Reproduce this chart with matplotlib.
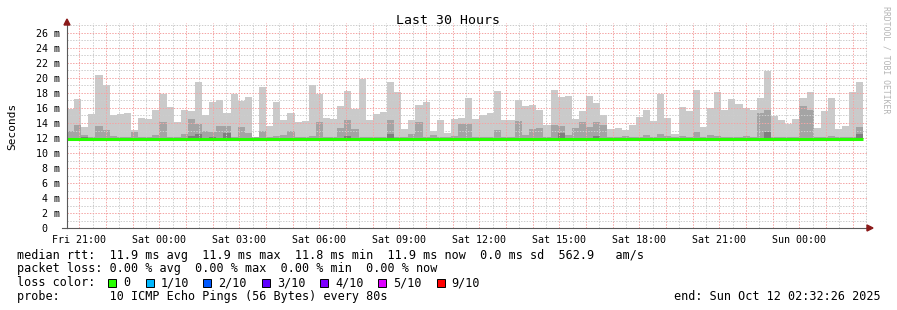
import matplotlib
matplotlib.use("Agg")
import matplotlib.pyplot as plt
import matplotlib.dates as mdates
from matplotlib.patches import Polygon, Rectangle
import numpy as np
from datetime import datetime, timedelta

# ---------------- data ----------------
title = "Last 30 Hours"
end_time = datetime(2025, 10, 12, 2, 32, 26)
step_minutes = 16
median_rtt = 11.85  # ms (loss 0 -> green)

# smoke: max ping (p10), 9th ping, 8th ping per 16-minute step (ms)
ping_max = [15.9, 17.2, 13.5, 15.2, 20.4, 19.0, 15.1, 15.2, 15.4, 13.1,
            14.7, 14.6, 15.7, 17.8, 16.2, 14.2, 15.8, 15.6, 19.5, 15.1,
            16.8, 17.1, 15.4, 17.8, 17.0, 17.5, 12.2, 18.8, 13.6, 16.8,
            14.4, 15.4, 14.2, 14.3, 19.0, 17.8, 14.7, 14.6, 16.3, 18.3,
            15.9, 19.9, 14.4, 15.2, 15.5, 19.5, 18.2, 13.2, 14.4, 16.4,
            16.8, 13.0, 14.4, 12.7, 14.6, 14.7, 17.4, 14.6, 15.1, 15.4,
            18.3, 14.4, 14.4, 17.1, 16.3, 16.4, 15.8, 13.8, 18.4, 17.5,
            17.6, 14.6, 15.6, 17.6, 16.6, 15.1, 13.2, 13.4, 13.1, 13.8,
            14.8, 15.8, 14.3, 17.9, 14.7, 12.6, 16.1, 15.6, 18.4, 13.5,
            16.0, 18.1, 15.7, 17.2, 16.5, 16.0, 15.7, 17.3, 20.9, 14.9,
            14.4, 13.9, 14.5, 17.3, 18.1, 13.3, 15.6, 17.3, 13.2, 13.6,
            18.1, 19.5]
ping_9th = [13.0, 13.8, 12.4, 12.2, 13.6, 13.1, 12.3, 12.1, 12.1, 12.8,
            12.1, 12.1, 12.4, 14.1, 12.2, 12.1, 12.6, 14.6, 13.9, 12.9,
            12.8, 13.6, 13.6, 12.2, 13.5, 12.7, 12.1, 12.9, 12.2, 12.3,
            12.4, 13.0, 12.1, 12.1, 12.3, 14.2, 12.1, 12.1, 13.4, 14.4,
            13.2, 12.2, 12.1, 12.1, 12.1, 14.4, 12.1, 12.1, 12.6, 14.2,
            12.1, 12.4, 12.1, 12.1, 12.3, 13.9, 13.9, 12.1, 12.1, 12.1,
            13.1, 12.1, 12.1, 14.3, 12.4, 13.2, 13.4, 12.1, 13.8, 13.6,
            12.4, 13.4, 14.2, 13.5, 14.1, 13.8, 12.1, 12.1, 12.3, 12.2,
            12.1, 12.4, 12.1, 12.6, 12.3, 12.1, 12.3, 12.1, 12.8, 12.1,
            12.4, 12.3, 12.1, 12.1, 12.2, 12.3, 12.2, 15.3, 15.7, 12.2,
            12.1, 12.1, 12.1, 16.3, 15.7, 12.1, 12.2, 12.3, 12.1, 12.1,
            12.1, 13.5]
ping_8th = [12.0, 12.0, 12.1, 12.0, 12.0, 12.0, 12.0, 12.0, 12.0, 12.0,
            12.0, 12.0, 12.0, 12.0, 12.0, 12.0, 12.0, 12.3, 12.5, 12.0,
            12.2, 12.0, 12.7, 12.0, 12.0, 12.0, 12.0, 12.0, 12.0, 12.0,
            12.0, 12.0, 12.0, 12.0, 12.0, 12.0, 12.0, 12.0, 12.0, 12.3,
            12.0, 12.0, 12.0, 12.0, 12.0, 12.6, 12.0, 12.0, 12.0, 12.0,
            12.0, 12.0, 12.0, 12.0, 12.0, 12.0, 12.0, 12.0, 12.0, 12.0,
            12.0, 12.0, 12.0, 12.0, 12.0, 12.0, 12.0, 12.0, 12.0, 12.7,
            12.0, 12.0, 12.0, 12.0, 12.3, 12.0, 12.0, 12.0, 12.0, 12.0,
            12.0, 12.0, 12.0, 12.0, 12.0, 12.0, 12.0, 12.0, 12.0, 12.0,
            12.0, 12.0, 12.0, 12.0, 12.0, 12.0, 12.0, 12.0, 12.8, 12.0,
            12.0, 12.0, 12.0, 12.0, 12.0, 12.0, 12.0, 12.0, 12.0, 12.0,
            12.0, 12.6]
ping_min, ping_2nd, ping_3rd = 11.70, 11.75, 11.80

y_ticks = [0, 2, 4, 6, 8, 10, 12, 14, 16, 18, 20, 22, 24, 26]
y_tick_labels = ["0  ", "2 m", "4 m", "6 m", "8 m", "10 m", "12 m", "14 m",
                 "16 m", "18 m", "20 m", "22 m", "24 m", "26 m"]

legend_line1 = "median rtt:  11.9 ms avg  11.9 ms max  11.8 ms min  11.9 ms now  0.0 ms sd  562.9   am/s"
legend_line2 = "packet loss: 0.00 % avg  0.00 % max  0.00 % min  0.00 % now"
loss_labels = ["0", "1/10", "2/10", "3/10", "4/10", "5/10", "9/10"]
loss_colors = ["#26ff00", "#00b8ff", "#0059ff", "#5e00ff", "#7e00ff", "#dd00ff", "#ff0000"]
probe_line = "probe:       10 ICMP Echo Pings (56 Bytes) every 80s"
end_line = "end: Sun Oct 12 02:32:26 2025"
watermark = "RRDTOOL / TOBI OETIKER"

# ---------------- figure ----------------
W, H = 897, 310
FONT = "DejaVu Sans Mono"
fig = plt.figure(figsize=(W / 100, H / 100), dpi=100)
fig.patch.set_facecolor("white")
L, R, T, B = 67, 867, 23, 228
ax = fig.add_axes([L / W, 1 - B / H, (R - L) / W, (B - T) / H])
ax.set_facecolor("white")

def fx(x):
    return x / W

def fy(y):
    return 1 - y / H

start_time = end_time - timedelta(hours=30)
n = len(ping_max)
edges = [start_time + timedelta(minutes=step_minutes * i) for i in range(n + 1)]
xe = mdates.date2num(edges)

def stepvals(v):
    v = list(v)
    return np.array(v + [v[-1]])

pmax = stepvals(ping_max)
p9 = stepvals(ping_9th)
p8 = stepvals(ping_8th)

ax.fill_between(xe, ping_min, pmax, step="post", color="#cacaca", lw=0, zorder=1)
ax.fill_between(xe, ping_2nd, p9, step="post", color="#a4a4a4", lw=0, zorder=1.1)
ax.fill_between(xe, ping_3rd, p8, step="post", color="#7e7e7e", lw=0, zorder=1.2)

x0 = mdates.date2num(start_time)
x1 = mdates.date2num(end_time)
ax.set_xlim(x0, x1)
ymax = (B - T) / 7.5
ax.set_ylim(0, ymax)

# grid
dash = (0, (1.4, 1.4))
gray = "#cdcdcd"
red = "#f4a4a4"
t = datetime(2025, 10, 10, 21, 0, 0) - timedelta(hours=1)
while t <= end_time:
    xv = mdates.date2num(t)
    if xv > x0:
        ax.axvline(xv, color=red, lw=0.72, ls=dash, zorder=2)
    xh = mdates.date2num(t + timedelta(minutes=30))
    if x0 < xh < x1:
        ax.axvline(xh, color=gray, lw=0.72, ls=dash, zorder=2)
    t += timedelta(hours=1)
for v in range(1, 28):
    if v > ymax:
        break
    ax.axhline(v, color=red if v % 2 == 0 else gray, lw=0.72, ls=dash, zorder=2)

# median line
ax.hlines(median_rtt, xe[0], xe[-1], color=loss_colors[0], lw=2.2, zorder=3)

# ticks
xt = []
t = datetime(2025, 10, 10, 21, 0, 0)
while t <= end_time:
    xt.append(t)
    t += timedelta(hours=3)
ax.set_xticks(mdates.date2num(xt))
ax.set_xticklabels([d.strftime("%a %H:%M") for d in xt], fontfamily=FONT, fontsize=7.2)
ax.set_yticks(y_ticks)
ax.set_yticklabels(y_tick_labels, fontfamily=FONT, fontsize=7.2)
ax.tick_params(axis="both", length=0, colors="#000000")
ax.tick_params(axis="x", pad=5)
ax.tick_params(axis="y", pad=5)

for s in ["top", "right"]:
    ax.spines[s].set_visible(False)
for s in ["left", "bottom"]:
    ax.spines[s].set_color("#5a5a5a")
    ax.spines[s].set_linewidth(0.8)
    ax.spines[s].set_zorder(4)

# arrows
arrow_col = "#8b1a1a"
fig.add_artist(Polygon([(fx(64), fy(25)), (fx(70), fy(25)), (fx(67), fy(19))],
                       closed=True, color=arrow_col, transform=fig.transFigure))
fig.add_artist(Polygon([(fx(867), fy(225)), (fx(867), fy(231)), (fx(873), fy(228))],
                       closed=True, color=arrow_col, transform=fig.transFigure))
# small overhang of x-axis to the left
fig.add_artist(plt.Line2D([fx(62), fx(67)], [fy(228), fy(228)], color="#5a5a5a",
                          lw=0.8, transform=fig.transFigure))

# title, axis label, watermark
fig.text(fx(448), fy(20), title, fontfamily=FONT, fontsize=9.5, ha="center", va="center")
fig.text(fx(12), fy(126), "Seconds", fontfamily=FONT, fontsize=8, rotation=90,
         ha="center", va="center")
fig.text(fx(886), fy(60), watermark, fontfamily=FONT, fontsize=5.9, rotation=-90,
         ha="center", va="center", color="#b4b4b4")

# legend
LFS = 8.45
fig.text(fx(16.5), fy(258.5), legend_line1, fontfamily=FONT, fontsize=LFS, va="baseline")
fig.text(fx(16.5), fy(272.3), legend_line2, fontfamily=FONT, fontsize=LFS, va="baseline")
fig.text(fx(16.5), fy(286.2), "loss color:", fontfamily=FONT, fontsize=LFS, va="baseline")
box_x = [108, 145.7, 203.3, 261.7, 320, 378.3, 436.7]
for bx, lab, col in zip(box_x, loss_labels, loss_colors):
    fig.add_artist(Rectangle((fx(bx), fy(286.5)), 8 / W, 8 / H, facecolor=col,
                             edgecolor="black", lw=0.7, transform=fig.transFigure))
    fig.text(fx(bx + 15), fy(286.2), lab, fontfamily=FONT, fontsize=LFS, va="baseline")
fig.text(fx(16.5), fy(300), probe_line, fontfamily=FONT, fontsize=LFS, va="baseline")
fig.text(fx(880.5), fy(300), end_line, fontfamily=FONT, fontsize=LFS, va="baseline", ha="right")

fig.savefig("out.png", dpi=100, facecolor="white")
